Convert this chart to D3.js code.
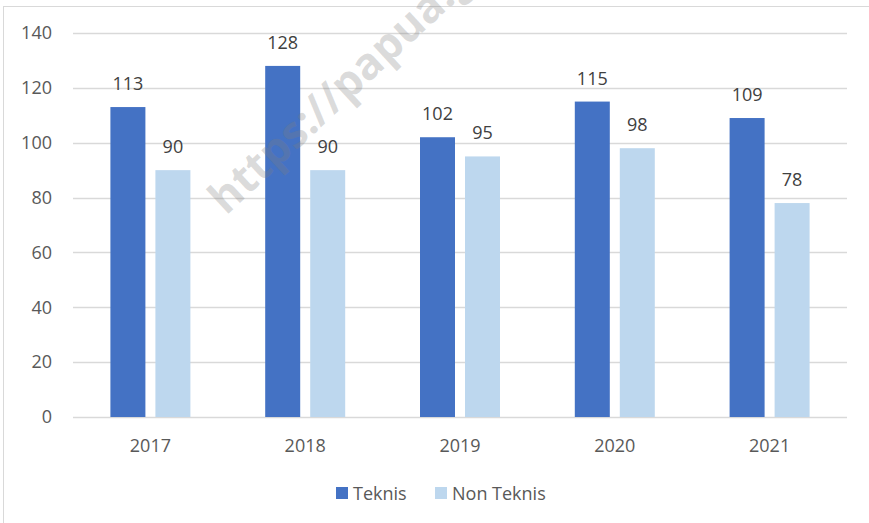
<!DOCTYPE html>
<html>
<head>
<meta charset="utf-8">
<script src="https://cdn.jsdelivr.net/npm/d3@7"></script>
<style>
  html, body { margin: 0; padding: 0; background: #fff; }
  svg { display: block; }
  text { font-family: "Open Sans", "Noto Sans", sans-serif; }
</style>
</head>
<body>
<svg id="chart" width="869" height="523"></svg>
<script>
const years = ["2017", "2018", "2019", "2020", "2021"];
const seriesNames = ["Teknis", "Non Teknis"];
const teknis = [113, 128, 102, 115, 109];
const nonTeknis = [90, 90, 95, 98, 78];
const yTicks = [0, 20, 40, 60, 80, 100, 120, 140];
const colors = ["#4472C4", "#BDD7EE"];

(function () {
const svg = d3.select("#chart");
const W = 869, H = 523;
const pLeft = 73, pRight = 847, pTop = 33, pBottom = 417;

svg.append("rect").attr("x", 0).attr("y", 0).attr("width", W).attr("height", H).attr("fill", "#fff");
// outer chart border
svg.append("rect").attr("x", 3.5).attr("y", 6.5).attr("width", 920).attr("height", 600)
  .attr("fill", "none").attr("stroke", "#d9d9d9").attr("stroke-width", 1);

const y = d3.scaleLinear().domain([0, 140]).range([pBottom, pTop]);
const x = d3.scaleBand().domain(years).range([pLeft, pRight]).padding(0);
const inner = d3.scaleBand().domain(seriesNames).range([-40, 40]).paddingInner(10 / 45).paddingOuter(0);

// gridlines
svg.append("g").selectAll("line").data(yTicks).join("line")
  .attr("x1", pLeft).attr("x2", pRight)
  .attr("y1", d => Math.round(y(d)) + 0.5).attr("y2", d => Math.round(y(d)) + 0.5)
  .attr("stroke", "#d9d9d9").attr("stroke-width", 1.3);

// y labels
svg.append("g").selectAll("text").data(yTicks).join("text")
  .attr("x", 52).attr("y", d => y(d)).attr("dy", "0.35em")
  .attr("text-anchor", "end").attr("font-size", 18).attr("fill", "#595959")
  .text(d => d);

const data = years.map((yr, i) => ({ year: yr, values: [teknis[i], nonTeknis[i]] }));

const groups = svg.append("g").selectAll("g").data(data).join("g")
  .attr("transform", d => `translate(${x(d.year) + x.bandwidth() / 2},0)`);

groups.selectAll("rect").data(d => d.values.map((v, j) => ({ v, s: seriesNames[j], j })))
  .join("rect")
  .attr("x", d => inner(d.s)).attr("width", inner.bandwidth())
  .attr("y", d => y(d.v)).attr("height", d => y(0) - y(d.v))
  .attr("fill", d => colors[d.j]);

groups.selectAll("text.val").data(d => d.values.map((v, j) => ({ v, s: seriesNames[j], j })))
  .join("text").attr("class", "val")
  .attr("x", d => inner(d.s) + inner.bandwidth() / 2)
  .attr("y", d => y(d.v) - 17)
  .attr("text-anchor", "middle").attr("font-size", 18).attr("fill", "#404040")
  .text(d => d.v);

// x labels
svg.append("g").selectAll("text").data(years).join("text")
  .attr("x", d => x(d) + x.bandwidth() / 2).attr("y", 452)
  .attr("text-anchor", "middle").attr("font-size", 18).attr("fill", "#595959")
  .text(d => d);

// watermark
svg.append("text")
  .attr("transform", "translate(226,216) rotate(-43)")
  .attr("font-family", "'Liberation Sans', Arial, sans-serif")
  .attr("font-weight", "bold").attr("font-size", 44)
  .attr("fill", "#7f7f7f").attr("fill-opacity", 0.28)
  .text("https://papua.go.id");

// legend
const legendX = [336, 435];
const leg = svg.append("g").selectAll("g").data(seriesNames).join("g")
  .attr("transform", (d, i) => `translate(${legendX[i]},0)`);
leg.append("rect").attr("x", 0).attr("y", 487).attr("width", 12).attr("height", 12)
  .attr("fill", (d, i) => colors[i]);
leg.append("text").attr("x", 17).attr("y", 500).attr("font-size", 18).attr("fill", "#595959")
  .text(d => d);
})();
</script>
</body>
</html>
